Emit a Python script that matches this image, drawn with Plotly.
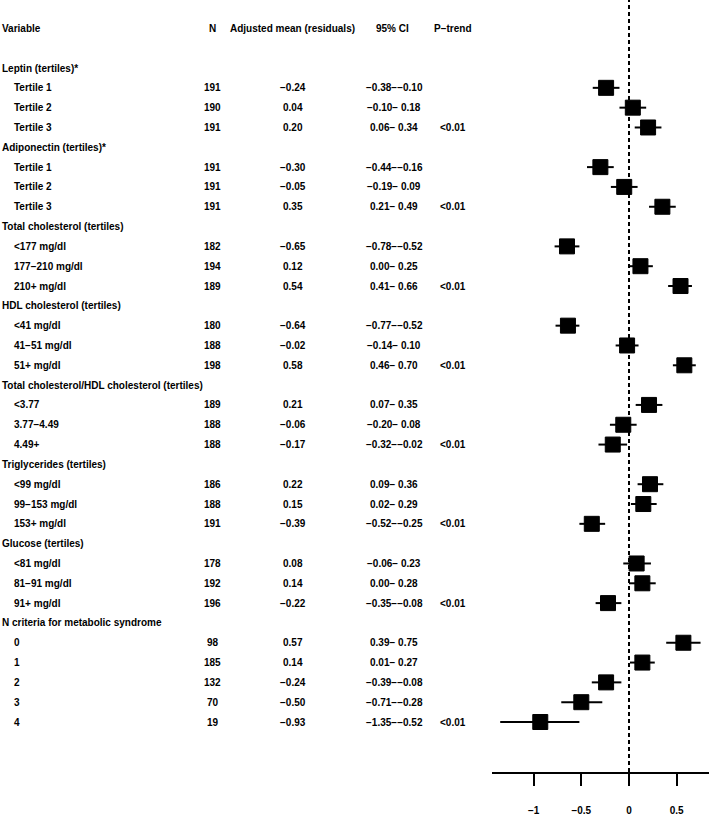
import plotly.graph_objects as go

MINUS = "\u2212"

# ---------------- data ----------------
row_labels = [
    "Leptin (tertiles)*", "Tertile 1", "Tertile 2", "Tertile 3",
    "Adiponectin (tertiles)*", "Tertile 1", "Tertile 2", "Tertile 3",
    "Total cholesterol (tertiles)", "<177 mg/dl", "177\u2212210 mg/dl", "210+ mg/dl",
    "HDL cholesterol (tertiles)", "<41 mg/dl", "41\u221251 mg/dl", "51+ mg/dl",
    "Total cholesterol/HDL cholesterol (tertiles)", "<3.77", "3.77\u22124.49", "4.49+",
    "Triglycerides (tertiles)", "<99 mg/dl", "99\u2212153 mg/dl", "153+ mg/dl",
    "Glucose (tertiles)", "<81 mg/dl", "81\u221291 mg/dl", "91+ mg/dl",
    "N criteria for metabolic syndrome", "0", "1", "2", "3", "4",
]
is_heading = [
    True, False, False, False,
    True, False, False, False,
    True, False, False, False,
    True, False, False, False,
    True, False, False, False,
    True, False, False, False,
    True, False, False, False,
    True, False, False, False, False, False,
]
n_values = [
    None, 191, 190, 191,
    None, 191, 191, 191,
    None, 182, 194, 189,
    None, 180, 188, 198,
    None, 189, 188, 188,
    None, 186, 188, 191,
    None, 178, 192, 196,
    None, 98, 185, 132, 70, 19,
]
means = [
    None, -0.24, 0.04, 0.20,
    None, -0.30, -0.05, 0.35,
    None, -0.65, 0.12, 0.54,
    None, -0.64, -0.02, 0.58,
    None, 0.21, -0.06, -0.17,
    None, 0.22, 0.15, -0.39,
    None, 0.08, 0.14, -0.22,
    None, 0.57, 0.14, -0.24, -0.50, -0.93,
]
ci_lower = [
    None, -0.38, -0.10, 0.06,
    None, -0.44, -0.19, 0.21,
    None, -0.78, 0.00, 0.41,
    None, -0.77, -0.14, 0.46,
    None, 0.07, -0.20, -0.32,
    None, 0.09, 0.02, -0.52,
    None, -0.06, 0.00, -0.35,
    None, 0.39, 0.01, -0.39, -0.71, -1.35,
]
ci_upper = [
    None, -0.10, 0.18, 0.34,
    None, -0.16, 0.09, 0.49,
    None, -0.52, 0.25, 0.66,
    None, -0.52, 0.10, 0.70,
    None, 0.35, 0.08, -0.02,
    None, 0.36, 0.29, -0.25,
    None, 0.23, 0.28, -0.08,
    None, 0.75, 0.27, -0.08, -0.28, -0.52,
]
p_trend = [
    "", "", "", "<0.01",
    "", "", "", "<0.01",
    "", "", "", "<0.01",
    "", "", "", "<0.01",
    "", "", "", "<0.01",
    "", "", "", "<0.01",
    "", "", "", "<0.01",
    "", "", "", "", "", "<0.01",
]
column_headers = ["Variable", "N", "Adjusted mean (residuals)", "95% CI", "P\u2212trend"]
tick_values = [-1, -0.5, 0, 0.5]

# ---------------- layout constants ----------------
W, H = 709, 815
FONT = dict(family="Liberation Sans, Arial, sans-serif", size=10, color="black", weight="bold")


def fmt(v):
    s = f"{abs(v):.2f}"
    return (MINUS + s) if v < 0 else s


def fmt_ci(lo, hi):
    hi_s = fmt(hi) if hi < 0 else " " + fmt(hi)
    return fmt(lo) + MINUS + hi_s


rows = list(range(len(row_labels)))
data_rows = [r for r in rows if not is_heading[r]]

fig = go.Figure()
fig.add_trace(go.Scatter(
    x=[means[r] for r in data_rows],
    y=[r for r in data_rows],
    mode="markers",
    marker=dict(symbol="square", size=15, color="black", line=dict(color="black", width=1)),
    error_x=dict(
        type="data", symmetric=False,
        array=[ci_upper[r] - means[r] for r in data_rows],
        arrayminus=[means[r] - ci_lower[r] for r in data_rows],
        width=0, thickness=2, color="black",
    ),
    showlegend=False, hoverinfo="skip",
))

# zero reference line
fig.add_shape(type="line", xref="x", yref="paper", x0=0, x1=0, y0=0, y1=1,
              line=dict(color="black", width=2, dash="4px,3px"), layer="below")

ann = []
col_x = {"N": 213, "mean": 293, "ci": 394, "p": 453}
header_y = -2
ann.append(dict(x=0, y=header_y, text=column_headers[0], xanchor="left"))
ann.append(dict(x=col_x["N"] / W, y=header_y, text=column_headers[1], xanchor="center"))
ann.append(dict(x=292.5 / W, y=header_y, text=column_headers[2], xanchor="center"))
ann.append(dict(x=392 / W, y=header_y, text=column_headers[3], xanchor="center"))
ann.append(dict(x=col_x["p"] / W, y=header_y, text=column_headers[4], xanchor="center"))

for r in rows:
    if is_heading[r]:
        ann.append(dict(x=0, y=r, text=row_labels[r], xanchor="left"))
        continue
    ann.append(dict(x=12 / W, y=r, text=row_labels[r], xanchor="left"))
    ann.append(dict(x=col_x["N"] / W, y=r, text=str(n_values[r]), xanchor="center"))
    ann.append(dict(x=col_x["mean"] / W, y=r, text=fmt(means[r]), xanchor="center"))
    ann.append(dict(x=col_x["ci"] / W, y=r, text=fmt_ci(ci_lower[r], ci_upper[r]), xanchor="center"))
    if p_trend[r]:
        ann.append(dict(x=col_x["p"] / W, y=r, text=p_trend[r], xanchor="center"))

for a in ann:
    a.update(xref="paper", yref="y", yanchor="middle", showarrow=False, font=FONT)

# geometry: zero at x=629px, 95.4 px per unit; rows 19.81 px apart, row 0 at 68 px
px_per_unit = 95.4
x_left_px = 491.7
x0 = (x_left_px - 629) / px_per_unit
x1 = x0 + (W - x_left_px) / px_per_unit
axis_px = 771.7
row_px = 19.81
y_top = (0 - 68) / row_px
y_bot = (axis_px - 68) / row_px

fig.update_layout(
    width=W, height=H,
    margin=dict(l=0, r=0, t=0, b=H - axis_px, pad=0),
    plot_bgcolor="white", paper_bgcolor="white",
    annotations=ann,
    xaxis=dict(
        domain=[x_left_px / W, 1], range=[x0, x1],
        showgrid=False, zeroline=False,
        showline=True, linecolor="black", linewidth=2,
        ticks="outside", ticklen=12, tickwidth=2, tickcolor="black",
        tickvals=tick_values, tickfont=FONT,
        ticklabelstandoff=16,
    ),
    yaxis=dict(
        range=[y_bot, y_top], visible=False, showgrid=False, zeroline=False,
    ),
)

fig.write_html(
    "out.html",
    config={"displayModeBar": False},
    post_script="document.body.style.margin='0';document.body.style.overflow='hidden';",
)
